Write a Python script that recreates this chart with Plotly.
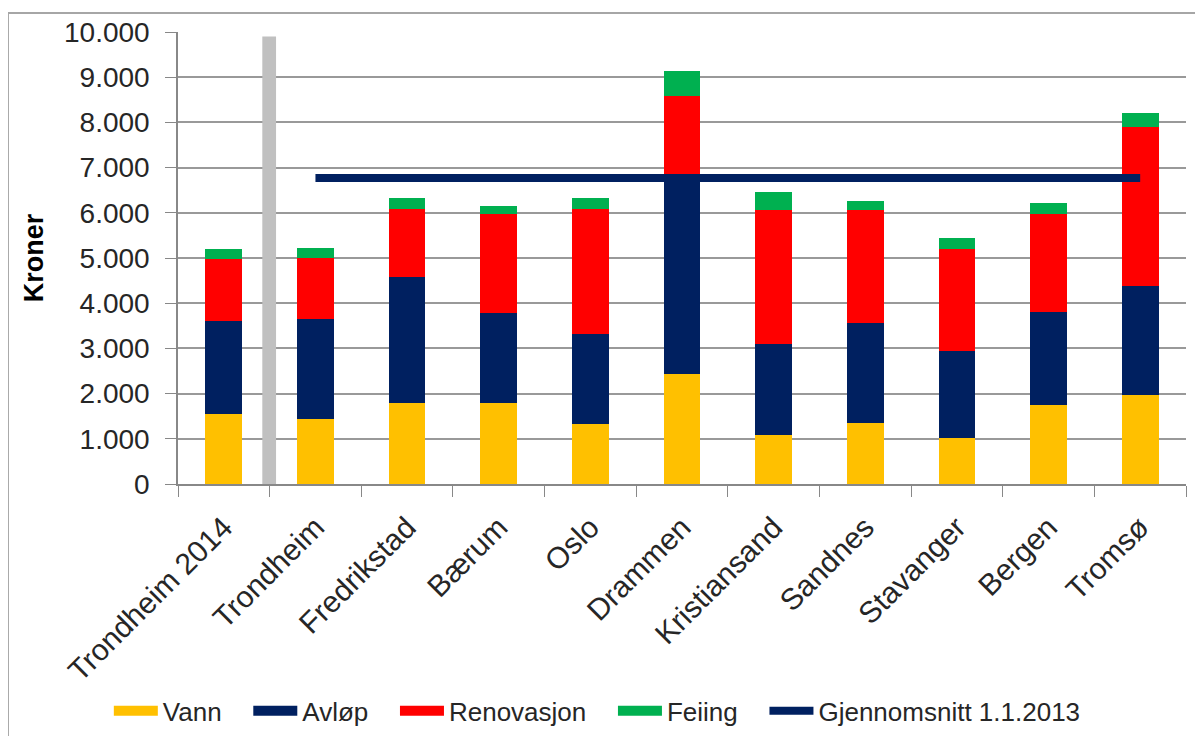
import plotly.graph_objects as go

categories = ["Trondheim 2014", "Trondheim", "Fredrikstad", "Bærum", "Oslo", "Drammen",
              "Kristiansand", "Sandnes", "Stavanger", "Bergen", "Tromsø"]
vann = [1550, 1430, 1785, 1790, 1330, 2430, 1085, 1355, 1010, 1750, 1960]
avlop = [2060, 2220, 2800, 1990, 1980, 4430, 2010, 2200, 1940, 2055, 2420]
renovasjon = [1360, 1360, 1490, 2200, 2770, 1730, 2965, 2505, 2240, 2170, 3510]
feiing = [220, 215, 245, 160, 245, 545, 390, 195, 245, 250, 310]
snitt_categories = categories[1:]
snitt_values = [6770] * len(snitt_categories)
separator_height = 9900
y_ticks = list(range(0, 10001, 1000))

FONT = "Liberation Sans"
NAVY = "#002060"
PAD = "\u00a0" * 3
series = [("Vann", vann, "#FFC000"), ("Avløp", avlop, NAVY),
          ("Renovasjon", renovasjon, "#FF0000"), ("Feiing", feiing, "#00B050")]

fig = go.Figure()
for name, vals, col in series:
    fig.add_trace(go.Bar(name=name, x=categories, y=vals, legendgroup=name, showlegend=False,
                         marker=dict(color=col, line=dict(width=0))))
# legend swatches (wide rectangles like the original)
for name, vals, col in series:
    fig.add_trace(go.Scatter(name=name + PAD, x=[None], y=[None], mode="lines", legendgroup=name,
                             line=dict(color=col, width=18), hoverinfo="skip"))

fig.add_trace(go.Scatter(name="Gjennomsnitt 1.1.2013", x=snitt_categories, y=snitt_values,
                         mode="lines", line=dict(color=NAVY, width=8)))

# grey separator between Trondheim 2014 and Trondheim
fig.add_shape(type="rect", xref="x", yref="y", x0=0.5 - 0.08, x1=0.5 + 0.07,
              y0=0, y1=separator_height, fillcolor="#C0C0C0", line=dict(width=0), layer="above")
# outer chart border
fig.add_shape(type="rect", xref="paper", yref="paper", x0=-0.1687, x1=1.03, y0=-0.62, y1=1.042,
              line=dict(color="#A6A6A6", width=2), fillcolor="rgba(0,0,0,0)")

fig.update_layout(
    width=1195, height=728,
    margin=dict(l=170, r=17, t=24, b=252, autoexpand=False),
    barmode="stack", bargap=0.6,
    separators=",.",
    paper_bgcolor="white", plot_bgcolor="white",
    font=dict(family=FONT, color="#262626", size=26),
    showlegend=True,
    legend=dict(orientation="h", x=0.416, xanchor="center", y=-0.502, yanchor="middle",
                font=dict(size=26, family=FONT), traceorder="normal", itemwidth=44,
                bgcolor="rgba(0,0,0,0)"),
    xaxis=dict(type="category", tickangle=-45, tickfont=dict(size=30, family=FONT),
               showline=True, linecolor="#888888", linewidth=1.5, automargin=False,
               ticks="outside", tickson="boundaries", ticklen=11, tickcolor="#888888",
               ticklabelstandoff=12, showgrid=False),
    yaxis=dict(range=[0, 10000], tickvals=y_ticks, tickformat=",d",
               tickfont=dict(size=28, family=FONT), automargin=False,
               showline=True, linecolor="#888888", linewidth=1.5,
               ticks="outside", ticklen=11, tickcolor="#888888", ticklabelstandoff=10,
               showgrid=True, gridcolor="#999999", gridwidth=1.5, zeroline=False,
               title=dict(text="<b>Kroner</b>", font=dict(size=27, family=FONT, color="#000000"),
                          standoff=13)),
)

fig.write_html("out.html")
